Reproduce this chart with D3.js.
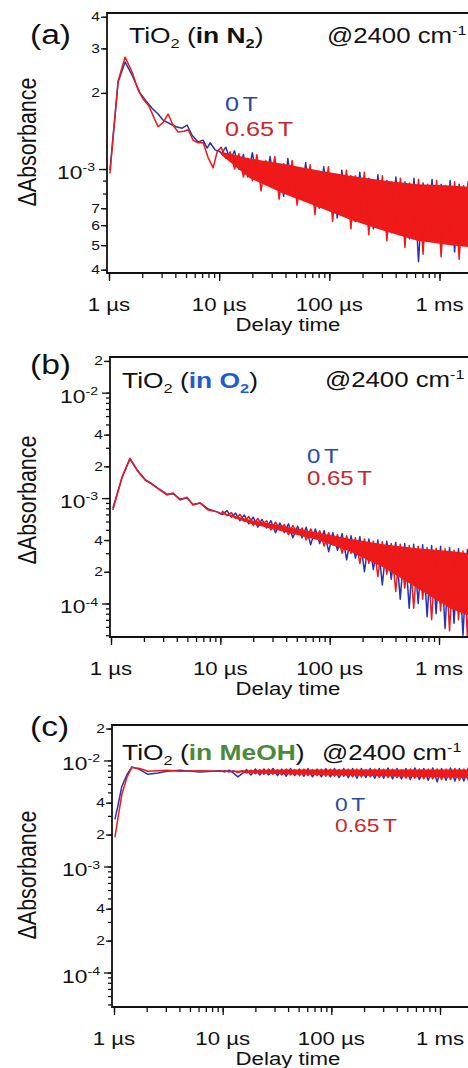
<!DOCTYPE html>
<html lang="en">
<head>
<meta charset="UTF-8" />
<title>TiO2 transient IR absorption at 2400 cm-1</title>
<script src="https://d3js.org/d3.v7.min.js"></script>
<style>
  body { margin: 0; background: #fff; }
  svg { display: block; font-family: Arial, "Liberation Sans", Helvetica, sans-serif; }
</style>
</head>
<body>
<svg width="468" height="1068"></svg>
<script>
// delay times in µs, ΔAbsorbance in units of 1e-3

// shared sample times for the noisy tails and the solid noise band
const zigTimes = [10.5, 11.5, 12.6, 13.8, 15.1, 16.6, 18.2, 20, 22, 24, 26.5, 29, 32, 35, 38.5, 42, 46, 51, 56, 61,
  67, 74, 81, 89, 98, 107, 118, 130, 143, 157, 172, 189, 208, 228, 251, 276, 303, 333, 366, 402,
  442, 486, 534, 587, 645, 709, 779, 856, 941, 1034, 1136, 1249, 1372, 1508, 1657, 1821, 1950];
const bandTimes = [10.4, 19, 38, 78, 155, 310, 630, 1260, 1950];

// (a) in N2
const aRedT = [1.02, 1.21, 1.40, 1.62, 1.84, 2.04, 2.31, 2.57, 2.79, 3.10, 3.44, 3.82, 4.24, 4.81, 5.23, 5.80, 6.44, 7.15, 7.94, 8.82, 9.59, 10.4];
const aRed = [0.96, 2.23, 2.77, 2.42, 2.05, 1.89, 1.77, 1.59, 1.47, 1.53, 1.65, 1.49, 1.40, 1.41, 1.43, 1.30, 1.27, 1.27, 1.11, 1.01, 1.17, 1.22];
const aBlueT = [1.02, 1.21, 1.40, 1.62, 1.91, 2.17, 2.46, 2.79, 3.10, 3.58, 4.06, 4.61, 5.12, 5.68, 6.44, 7.15, 7.78, 8.28, 9.20, 10.2];
const aBlue = [0.99, 2.21, 2.65, 2.35, 2.00, 1.86, 1.74, 1.65, 1.56, 1.51, 1.47, 1.45, 1.49, 1.36, 1.28, 1.30, 1.21, 1.27, 1.19, 1.17];
const aRedZig = [1.21, 1.10, 1.17, 1.00, 1.15, 0.93, 1.10, 0.90, 1.14, 0.82, 1.08, 0.88, 1.12, 0.76, 1.05, 0.83, 1.08, 0.72, 1.00, 0.76,
  1.04, 0.66, 0.98, 0.72, 1.02, 0.62, 0.95, 0.68, 0.99, 0.58, 0.94, 0.64, 0.97, 0.55, 0.91, 0.60, 0.94, 0.52, 0.89, 0.57,
  0.92, 0.49, 0.88, 0.55, 0.91, 0.46, 0.87, 0.53, 0.90, 0.45, 0.86, 0.52, 0.89, 0.44, 0.86, 0.50, 0.88];
const aBlueZig = [1.15, 1.22, 1.08, 1.18, 1.00, 1.14, 0.93, 1.16, 0.92, 1.06, 0.88, 1.12, 0.84, 1.02, 0.78, 1.10, 0.82, 0.98, 0.76, 1.06,
  0.74, 0.96, 0.70, 1.02, 0.72, 0.95, 0.64, 0.99, 0.68, 0.94, 0.62, 0.97, 0.64, 0.92, 0.58, 0.95, 0.60, 0.90, 0.56, 0.93,
  0.58, 0.89, 0.53, 0.92, 0.43, 0.88, 0.55, 0.91, 0.52, 0.87, 0.54, 0.90, 0.47, 0.87, 0.53, 0.89, 0.51];
const aBandHi = [1.17, 1.10, 1.05, 0.99, 0.94, 0.90, 0.87, 0.86, 0.85];
const aBandLo = [1.14, 0.92, 0.80, 0.71, 0.63, 0.57, 0.52, 0.50, 0.49];
const aYTicks = [4e-3, 3e-3, 2e-3, 1e-3, 7e-4, 6e-4, 5e-4, 4e-4];
const aYLabels = ["4", "3", "2", "10^-3", "7", "6", "5", "4"];

// (b) in O2
const bT = [1.04, 1.26, 1.49, 1.73, 2.05, 2.27, 2.81, 3.25, 3.69, 4.28, 4.96, 5.62, 6.52, 7.71, 9.33, 10.2];
const bRed = [0.77, 1.58, 2.39, 1.84, 1.48, 1.39, 1.19, 1.07, 1.12, 0.96, 1.02, 0.86, 0.90, 0.77, 0.74, 0.70];
const bBlue = [0.80, 1.55, 2.35, 1.86, 1.50, 1.41, 1.20, 1.09, 1.10, 0.98, 1.00, 0.87, 0.90, 0.79, 0.74, 0.71];
const bRedZig = [0.75, 0.68, 0.73, 0.64, 0.70, 0.60, 0.67, 0.55, 0.64, 0.56, 0.61, 0.50, 0.59, 0.51, 0.56, 0.45, 0.55, 0.46, 0.52, 0.40,
  0.51, 0.41, 0.49, 0.35, 0.47, 0.36, 0.45, 0.30, 0.44, 0.30, 0.42, 0.24, 0.41, 0.24, 0.39, 0.18, 0.385, 0.19, 0.37, 0.13,
  0.365, 0.14, 0.355, 0.09, 0.35, 0.11, 0.34, 0.07, 0.335, 0.085, 0.33, 0.055, 0.32, 0.07, 0.315, 0.048, 0.31];
const bBlueZig = [0.70, 0.76, 0.66, 0.72, 0.61, 0.69, 0.57, 0.66, 0.53, 0.63, 0.52, 0.61, 0.47, 0.58, 0.47, 0.57, 0.42, 0.54, 0.42, 0.53,
  0.36, 0.51, 0.37, 0.49, 0.31, 0.47, 0.32, 0.46, 0.26, 0.44, 0.27, 0.43, 0.20, 0.41, 0.21, 0.40, 0.15, 0.39, 0.17, 0.38,
  0.11, 0.37, 0.09, 0.365, 0.10, 0.36, 0.075, 0.355, 0.08, 0.35, 0.058, 0.34, 0.065, 0.33, 0.05, 0.325, 0.06];
const bBandHi = [0.73, 0.62, 0.54, 0.47, 0.41, 0.365, 0.335, 0.315, 0.30];
const bBandLo = [0.71, 0.57, 0.48, 0.40, 0.31, 0.22, 0.14, 0.09, 0.075];

// (c) in MeOH
const cT = [1.02, 1.09, 1.18, 1.32, 1.46, 1.73, 2.05, 2.54, 3.07, 4.05, 6.18, 9.44];
const cRed = [1.88, 2.9, 4.77, 7.0, 8.6, 8.4, 7.9, 8.0, 8.1, 7.9, 8.0, 7.9];
const cBlue = [2.78, 3.8, 5.69, 7.4, 8.7, 8.2, 7.4, 7.6, 7.9, 8.1, 7.8, 8.0];
const cRedZig = [8.0, 7.8, 8.0, 7.7, 8.0, 7.6, 8.1, 7.5, 8.2, 7.4, 8.3, 7.4, 8.2, 7.3, 8.3, 7.3, 8.2, 7.2, 8.3, 7.2,
  8.2, 7.2, 8.3, 7.1, 8.3, 7.1, 8.2, 7.1, 8.3, 7.0, 8.3, 7.0, 8.2, 7.0, 8.3, 6.9, 8.3, 6.9, 8.3, 6.9,
  8.2, 6.8, 8.3, 6.8, 8.3, 6.7, 8.3, 6.7, 8.3, 6.6, 8.3, 6.6, 8.4, 6.5, 8.3, 6.5, 8.3];
const cBlueZig = [7.8, 8.1, 7.6, 7.0, 7.5, 8.2, 7.3, 8.3, 7.3, 8.3, 7.3, 8.4, 7.2, 8.3, 7.1, 8.4, 7.2, 8.3, 7.1, 8.4,
  7.0, 8.3, 7.0, 8.4, 7.0, 8.4, 6.9, 8.4, 6.9, 8.4, 6.8, 8.4, 6.9, 8.4, 6.8, 8.4, 6.8, 8.5, 6.7, 8.4,
  6.7, 8.4, 6.6, 8.5, 6.6, 8.4, 6.5, 8.5, 6.3, 8.4, 6.5, 8.5, 6.4, 8.4, 6.4, 8.5, 6.4];
const cBandHi = [7.95, 8.1, 8.2, 8.2, 8.2, 8.2, 8.2, 8.2, 8.2];
const cBandLo = [7.85, 7.6, 7.4, 7.3, 7.2, 7.1, 7.0, 6.9, 6.8];

// (b) and (c) share the axis labelling
const bcYTicks = [2e-2, 1e-2, 4e-3, 2e-3, 1e-3, 4e-4, 2e-4, 1e-4];
const bcYLabels = ["2", "10^-2", "4", "2", "10^-3", "4", "2", "10^-4"];

const xTicks = [1, 10, 100, 1000];
const xLabels = ["1 µs", "10 µs", "100 µs", "1 ms"];
const legendLabels = ["0", "0.65"];

const svg = d3.select("svg");
const RIGHT = 470;
const SX = 1.2; // the original lettering is a bit wide
const BLUE = "#2334b5", RED = "#ee1919";
const defs = svg.append("defs");

const panels = [
  { id: "a", letter: "(a)", letterY: 44, top: 13, bottom: 273, left: 107, x1: 109, x1000: 439.5,
    yDomain: [3.88e-4, 4.14e-3], yTicks: aYTicks, yLabels: aYLabels,
    redT: aRedT, red: aRed, blueT: aBlueT, blue: aBlue, redZig: aRedZig, blueZig: aBlueZig,
    bandHi: aBandHi, bandLo: aBandLo,
    title: [{ t: "TiO" }, { t: "2", sub: 1 }, { t: " (" }, { t: "in N", b: 1 }, { t: "2", sub: 1, b: 1 }, { t: ")" }],
    titleX: 129, titleY: 43, atX: 327, atY: 43, legX: 225, legY: [111, 136], legSize: 21, labelY: 142 },
  { id: "b", letter: "(b)", letterY: 374, top: 357, bottom: 637, left: 110, x1: 111, x1000: 439,
    yDomain: [4.81e-5, 2.18e-2], yTicks: bcYTicks, yLabels: bcYLabels,
    redT: bT, red: bRed, blueT: bT, blue: bBlue, redZig: bRedZig, blueZig: bBlueZig,
    bandHi: bBandHi, bandLo: bBandLo,
    title: [{ t: "TiO" }, { t: "2", sub: 1 }, { t: " (" }, { t: "in O", b: 1, c: "#1f5cc9" }, { t: "2", sub: 1, b: 1, c: "#1f5cc9" }, { t: ")" }],
    titleX: 122, titleY: 388, atX: 325, atY: 387, legX: 307, legY: [463, 485], legSize: 20, labelY: 500 },
  { id: "c", letter: "(c)", letterY: 736, top: 725, bottom: 1007, left: 112, x1: 114, x1000: 440,
    yDomain: [4.73e-5, 2.16e-2], yTicks: bcYTicks, yLabels: bcYLabels,
    redT: cT, red: cRed, blueT: cT, blue: cBlue, redZig: cRedZig, blueZig: cBlueZig,
    bandHi: cBandHi, bandLo: cBandLo,
    title: [{ t: "TiO" }, { t: "2", sub: 1 }, { t: " (" }, { t: "in MeOH", b: 1, c: "#4b8a3b" }, { t: ")" }],
    titleX: 122, titleY: 760, atX: 322, atY: 760, legX: 335, legY: [811, 832], legSize: 19, labelY: 875 }
];

// text made of runs with sub/superscripts
function richText(sel, parts, size) {
  let shift = 0;
  parts.forEach(p => {
    const target = p.sub ? 5 : p.sup ? -8 : 0;
    sel.append("tspan")
      .attr("dy", target - shift)
      .attr("font-size", p.sub || p.sup ? size * 0.62 : size)
      .attr("font-weight", p.b ? "bold" : null)
      .attr("fill", p.c || "#111")
      .text(p.t);
    shift = target;
  });
}

function drawPanel(p) {
  const x = d3.scaleLog().domain([1, 1000]).range([p.x1, p.x1000]);
  const y = d3.scaleLog().domain(p.yDomain).range([p.bottom, p.top]);
  const g = svg.append("g");

  defs.append("clipPath").attr("id", "clip-" + p.id)
    .append("rect").attr("x", p.left).attr("y", p.top)
    .attr("width", RIGHT - p.left).attr("height", p.bottom - p.top);

  const pts = (ts, vs) => ts.map((t, i) => ({ t: t, v: vs[i] }));
  const blue = pts(p.blueT, p.blue).concat(pts(zigTimes, p.blueZig));
  const red = pts(p.redT, p.red).concat(pts(zigTimes, p.redZig));
  const band = bandTimes.map((t, i) => ({ t: t, hi: p.bandHi[i], lo: p.bandLo[i] }));

  const line = d3.line().x(d => x(d.t)).y(d => y(d.v * 1e-3));
  const area = d3.area().x(d => x(d.t)).y0(d => y(d.lo * 1e-3)).y1(d => y(d.hi * 1e-3));

  const plot = g.append("g").attr("clip-path", `url(#clip-${p.id})`);
  plot.append("path").datum(blue)
    .attr("fill", "none").attr("stroke", BLUE).attr("stroke-width", 1.5)
    .attr("stroke-linejoin", "round").attr("d", line);
  plot.append("path").datum(band).attr("fill", RED).attr("d", area);
  plot.append("path").datum(red)
    .attr("fill", "none").attr("stroke", RED).attr("stroke-width", 1.5)
    .attr("stroke-linejoin", "round").attr("d", line);

  // y ticks: all minor, then labelled ones longer
  const isDecade = s => s.startsWith("10^");
  const yAxis = (vals, len) => g.append("g")
    .attr("transform", `translate(${p.left},0)`)
    .call(d3.axisLeft(y).tickValues(vals).tickSize(len).tickSizeOuter(0).tickFormat(""))
    .call(a => a.select(".domain").remove())
    .call(a => a.selectAll("line").attr("stroke", "#111").attr("stroke-width", 1.3));
  yAxis(y.ticks(), 4);
  yAxis(p.yTicks.filter((v, i) => !isDecade(p.yLabels[i])), 6);
  yAxis(p.yTicks.filter((v, i) => isDecade(p.yLabels[i])), 8);

  p.yTicks.forEach((v, i) => {
    const lab = p.yLabels[i];
    if (isDecade(lab)) {
      const t = g.append("text").attr("text-anchor", "end")
        .attr("transform", `translate(${p.left - 12},${y(v) + 10}) scale(${SX},1)`);
      richText(t, [{ t: "10" }, { t: lab.slice(3), sup: 1 }], 19);
    } else {
      g.append("text").attr("text-anchor", "end").attr("font-size", 13).attr("fill", "#111")
        .attr("transform", `translate(${p.left - 7},${y(v) + 4.5}) scale(${SX},1)`)
        .text(lab);
    }
  });

  // x ticks
  const xAxis = (vals, len) => g.append("g")
    .attr("transform", `translate(0,${p.bottom})`)
    .call(d3.axisBottom(x).tickValues(vals).tickSize(len).tickSizeOuter(0).tickFormat(""))
    .call(a => a.select(".domain").remove())
    .call(a => a.selectAll("line").attr("stroke", "#111").attr("stroke-width", 1.3));
  xAxis(x.ticks(), 5);
  xAxis(xTicks, 8);

  g.selectAll(".xlab").data(xTicks).join("text")
    .attr("text-anchor", "middle").attr("font-size", 18.5).attr("fill", "#111")
    .attr("transform", d => `translate(${x(d)},${p.bottom + 38}) scale(${SX},1)`)
    .text((d, i) => xLabels[i]);
  g.append("text").attr("text-anchor", "middle").attr("font-size", 18.5).attr("fill", "#111")
    .attr("transform", `translate(288,${p.bottom + 58}) scale(${SX},1)`)
    .text("Delay time");

  // frame: top, left, bottom (right side runs off the page)
  g.append("path")
    .attr("d", `M${RIGHT},${p.top}H${p.left}V${p.bottom}H${RIGHT}`)
    .attr("fill", "none").attr("stroke", "#111").attr("stroke-width", 1.8);

  // y title
  g.append("text").attr("text-anchor", "middle").attr("font-size", 21.5).attr("fill", "#111")
    .attr("transform", `translate(36,${p.labelY}) rotate(-90) scale(1,${SX})`)
    .text("\u0394Absorbance");

  // panel letter, title, wavenumber
  g.append("text").attr("font-size", 28).attr("fill", "#111")
    .attr("transform", `translate(30,${p.letterY}) scale(${SX},1)`)
    .text(p.letter);
  richText(g.append("text").attr("transform", `translate(${p.titleX},${p.titleY}) scale(${SX},1)`), p.title, 22);
  richText(g.append("text").attr("transform", `translate(${p.atX},${p.atY}) scale(${SX},1)`),
    [{ t: "@2400 cm" }, { t: "-1", sup: 1 }], 21.5);

  // legend
  ["#2a47a8", "#c9262c"].forEach((col, i) => {
    const t = g.append("text").attr("font-size", p.legSize).attr("fill", col)
      .attr("transform", `translate(${p.legX},${p.legY[i]}) scale(${SX},1)`);
    t.append("tspan").text(legendLabels[i]);
    t.append("tspan").attr("dx", 3).text("T");
  });
}

panels.forEach(drawPanel);
</script>
</body>
</html>
